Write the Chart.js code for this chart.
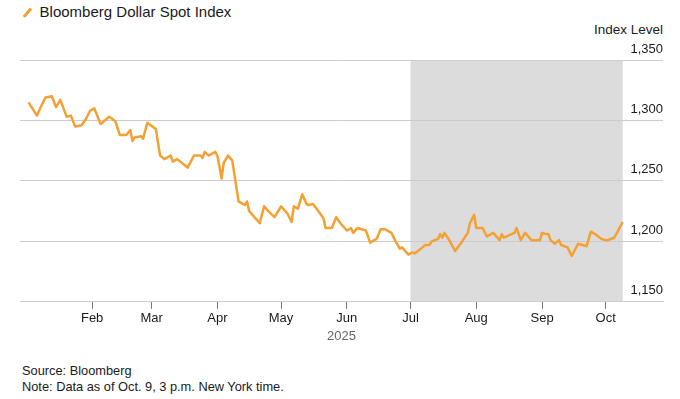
<!DOCTYPE html>
<html>
<head>
<meta charset="utf-8">
<script src="https://cdn.jsdelivr.net/npm/chart.js@4.4.1/dist/chart.umd.min.js"></script>
<style>
  body { margin: 0; background: #fff; font-family: "Liberation Sans", Arial, sans-serif; color: #1a1a1a; }
  #wrap { position: relative; width: 680px; height: 399px; overflow: hidden; }
  #chartBox { position: absolute; left: 0; top: 0; width: 680px; height: 344px; }
  .legend { position: absolute; left: 22px; top: 3px; font-size: 15px; line-height: 18px; }
  .legend .swatch { display: inline-block; width: 2.6px; height: 11px; background: #f5a033; transform: rotate(40deg); margin: 0 11px 0 4px; vertical-align: -1px; }
  .unit { position: absolute; right: 17px; top: 22px; font-size: 13.5px; }
  .footer { position: absolute; left: 22px; top: 363px; font-size: 12.8px; line-height: 15.5px; }
</style>
</head>
<body>
<div id="wrap">
  <div class="legend"><span class="swatch"></span>Bloomberg Dollar Spot Index</div>
  <div class="unit">Index Level</div>
  <div id="chartBox"><canvas id="chart"></canvas></div>
  <div class="footer">Source: Bloomberg<br>Note: Data as of Oct. 9, 3 p.m. New York time.</div>
</div>
<script>
// day of year 2025 (Jan 1 = 1)
const days = [2, 6, 8, 10, 13, 15, 17, 20, 22, 24, 27, 29, 31, 33, 36, 40, 41, 43, 45, 48,
  50, 51, 52, 55, 56, 58, 62, 64, 66, 69, 70, 72, 77, 80, 83, 84, 85, 87, 90, 91,
  93, 94, 96, 98, 101, 104, 105, 106, 111, 113, 115, 118, 121, 124, 126, 127, 129, 131, 133, 134,
  136, 139, 141, 142, 145, 147, 149, 152, 154, 155, 157, 161, 163, 166, 168, 170, 173, 175, 177, 178,
  181, 183, 184, 187, 189, 191, 192, 195, 196, 197, 198, 200, 203, 206, 209, 210, 212, 213, 216, 218,
  221, 224, 225, 226, 231, 232, 234, 236, 239, 243, 244, 246, 247, 248, 250, 252, 253, 256, 258, 261,
  265, 267, 269, 272, 274, 275, 278, 279, 282];
const values = [1315, 1304, 1312, 1319, 1320, 1311, 1317, 1303, 1304, 1295, 1296, 1301, 1308, 1310, 1297, 1303, 1302, 1299, 1288, 1288,
  1292, 1283, 1286, 1287, 1285, 1298, 1293, 1271, 1268, 1271, 1266, 1268, 1261, 1271, 1271, 1269, 1274, 1271, 1274, 1271,
  1252, 1265, 1271, 1267, 1233, 1230, 1233, 1225, 1215, 1229, 1225, 1220, 1229, 1223, 1216, 1229, 1227, 1239, 1231, 1230,
  1231, 1224, 1219, 1211, 1211, 1220, 1215, 1209, 1211, 1207, 1211, 1209, 1199, 1202, 1210, 1210, 1207, 1200, 1194, 1195,
  1189, 1191, 1190, 1194, 1197, 1197, 1200, 1202, 1206, 1203, 1207, 1202, 1192, 1199, 1207, 1215, 1222, 1211, 1211, 1204,
  1207, 1201, 1206, 1203, 1207, 1211, 1201, 1207, 1201, 1201, 1207, 1206, 1206, 1201, 1198, 1201, 1197, 1195, 1188, 1198,
  1196, 1208, 1206, 1202, 1201, 1201, 1203, 1206, 1216];

const monthStarts = [32, 60, 91, 121, 152, 182, 213, 244, 274];
const monthLabels = ["Feb", "Mar", "Apr", "May", "Jun", "Jul", "Aug", "Sep", "Oct"];
const yTicks = [1150, 1200, 1250, 1300, 1350];
const shadeStart = 182; // Jul 1
const shadeEnd = 282;   // Oct 9

Chart.defaults.font.family = '"Liberation Sans", Arial, sans-serif';
Chart.defaults.font.size = 13;
Chart.defaults.color = "#1a1a1a";

const shadePlugin = {
  id: "shade",
  beforeDraw(chart) {
    const { ctx, chartArea, scales } = chart;
    const x0 = scales.x.getPixelForValue(shadeStart);
    const x1 = scales.x.getPixelForValue(shadeEnd);
    ctx.save();
    ctx.fillStyle = "#dcdcdc";
    ctx.fillRect(x0, chartArea.top, x1 - x0, chartArea.bottom - chartArea.top);
    ctx.restore();
  }
};

new Chart(document.getElementById("chart"), {
  type: "line",
  data: {
    datasets: [{
      label: "Bloomberg Dollar Spot Index",
      data: days.map((d, i) => ({ x: d, y: values[i] })),
      borderColor: "#f5a033",
      borderWidth: 2.5,
      pointRadius: 0,
      tension: 0,
      borderJoinStyle: "round"
    }]
  },
  options: {
    responsive: true,
    maintainAspectRatio: false,
    animation: false,
    layout: { padding: { left: 20, right: 17, top: 60, bottom: 0 } },
    plugins: { legend: { display: false }, tooltip: { enabled: false } },
    scales: {
      x: {
        type: "linear",
        min: -2,
        max: 301,
        afterBuildTicks(scale) {
          scale.ticks = monthStarts.map(v => ({ value: v }));
        },
        ticks: {
          autoSkip: false,
          maxRotation: 0,
          padding: 2,
          color: "#1a1a1a",
          callback: (v, i) => monthLabels[i]
        },
        grid: { drawOnChartArea: false, drawTicks: true, tickLength: 7, color: "#777" },
        border: { display: true, color: "#cccccc" },
        title: { display: true, text: "2025", color: "#666", padding: { top: 0, bottom: 0 }, font: { size: 13 } }
      },
      y: {
        position: "right",
        min: 1150,
        max: 1350,
        afterBuildTicks(scale) {
          scale.ticks = yTicks.map(v => ({ value: v }));
        },
        ticks: {
          mirror: true,
          padding: 0,
          labelOffset: -11,
          color: "#1a1a1a",
          callback: v => v.toLocaleString("en-US")
        },
        grid: { drawTicks: false, color: "#cccccc" },
        border: { display: false }
      }
    }
  },
  plugins: [shadePlugin]
});
</script>
</body>
</html>
